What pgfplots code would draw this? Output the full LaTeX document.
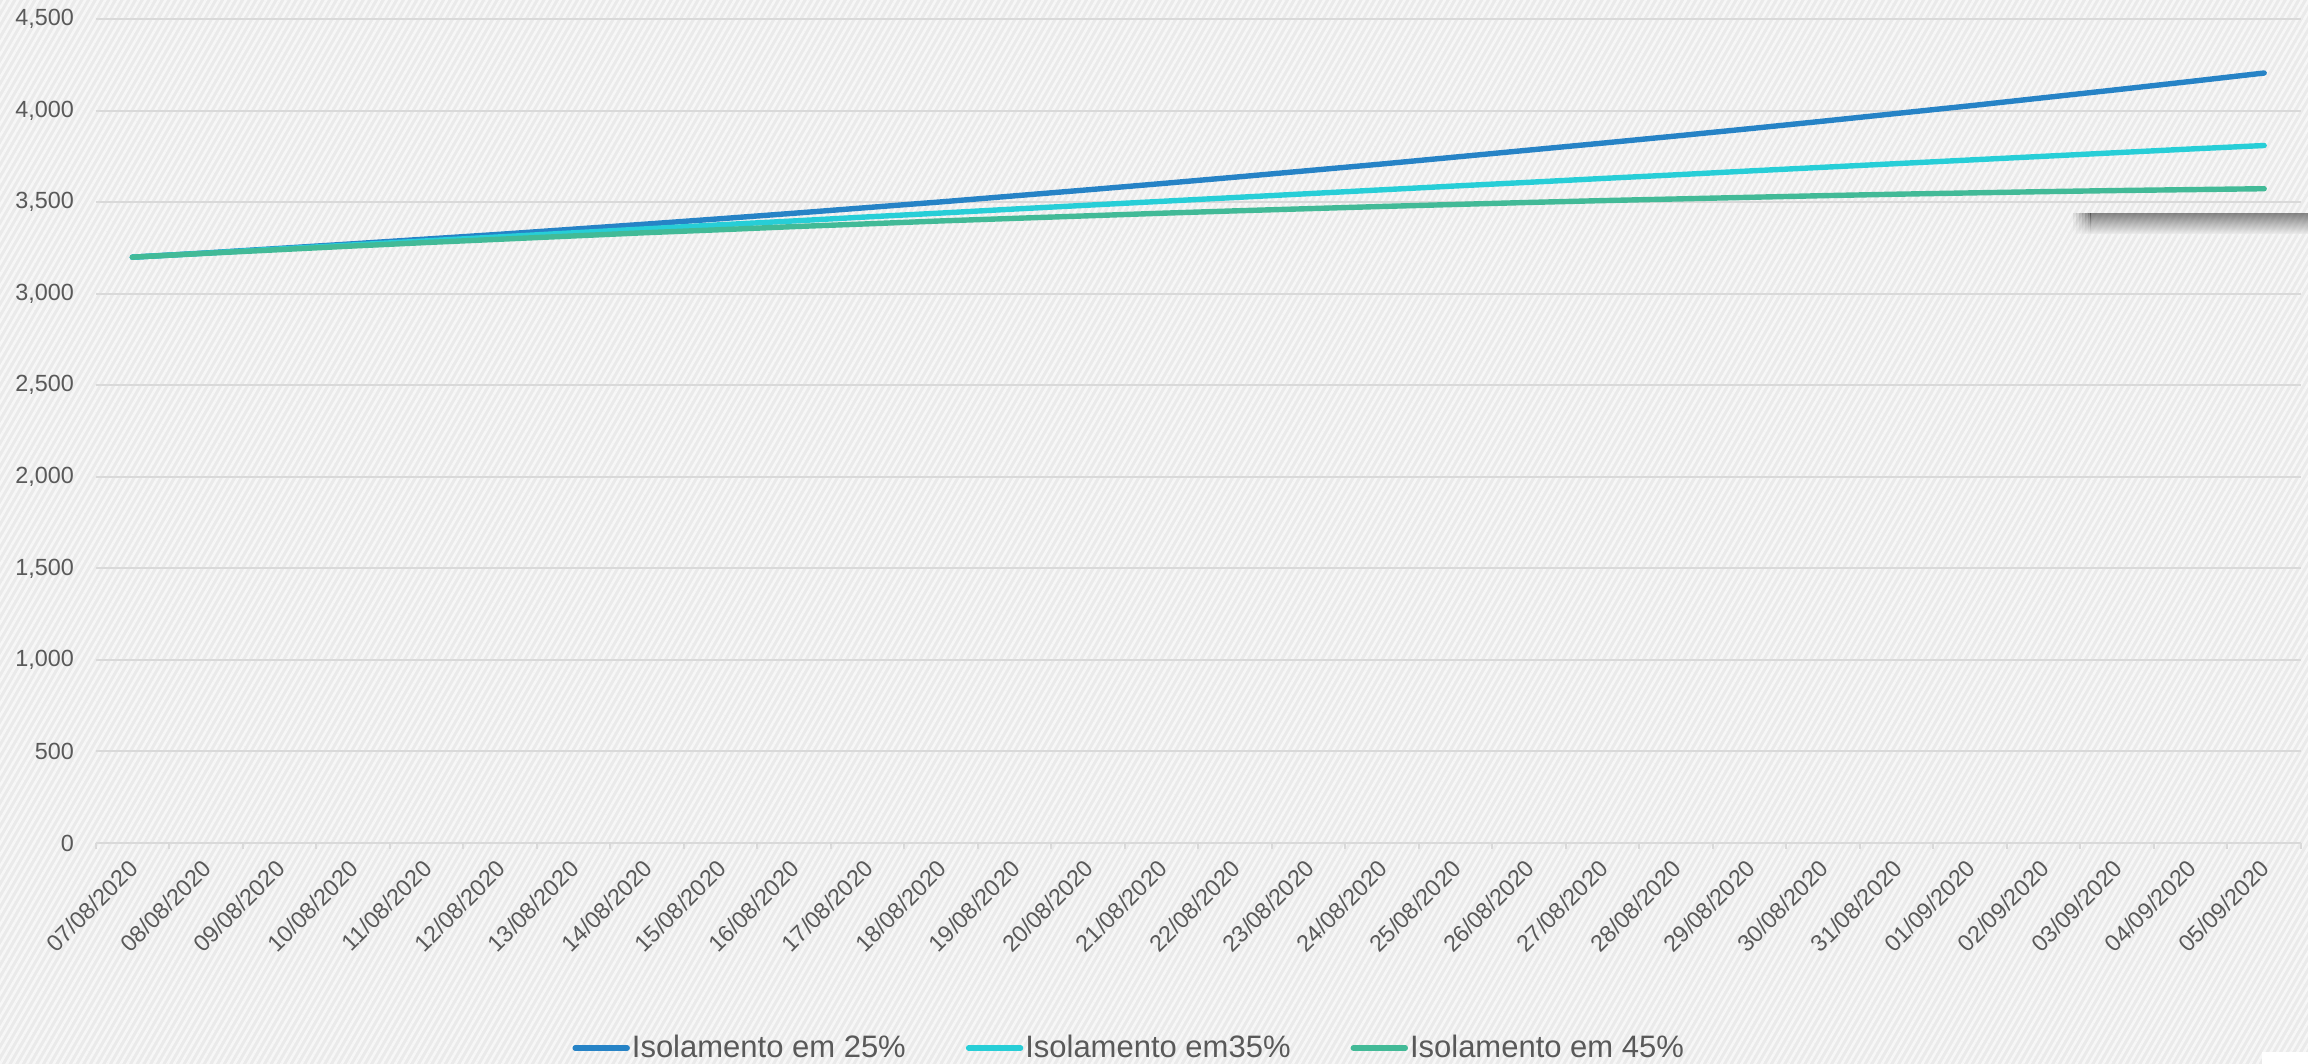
\documentclass[border=0pt]{standalone}
\usepackage{fontspec}
\setmainfont{Liberation Sans}
\usepackage{pgfplots}
\pgfplotsset{compat=1.18}
\usetikzlibrary{patterns.meta}
\definecolor{bgc}{HTML}{EAEAEA}
\definecolor{hatch}{HTML}{F7F7F7}
\definecolor{gridc}{HTML}{D9D9D9}
\definecolor{txt}{HTML}{595959}
\definecolor{c25}{HTML}{2683C6}
\definecolor{c35}{HTML}{27CED7}
\definecolor{c45}{HTML}{42BA97}

% dia, isolamento 25%, 35%, 45%
\pgfplotstableread{
t   a25     a35     a45
0   3200    3200    3200
1   3223    3222    3221
2   3248    3245    3241
3   3273    3267    3261
4   3299    3289    3280
5   3325    3311    3298
6   3353    3333    3316
7   3381    3355    3334
8   3410    3377    3350
9   3440    3398    3367
10  3471    3420    3382
11  3502    3441    3398
12  3535    3463    3412
13  3568    3484    3426
14  3602    3505    3440
15  3637    3526    3453
16  3673    3547    3465
17  3709    3568    3477
18  3747    3589    3488
19  3785    3609    3499
20  3823    3630    3509
21  3862    3650    3518
22  3902    3671    3527
23  3943    3691    3536
24  3985    3711    3544
25  4027    3731    3551
26  4071    3751    3558
27  4115    3771    3564
28  4160    3791    3569
29  4206    3810    3574
}\dados

\begin{document}
\begin{tikzpicture}
\path[use as bounding box] (0,0) rectangle (1154pt,532pt);
\fill[bgc] (0,0) rectangle (1154pt,532pt);
\fill[pattern={Lines[angle=60,distance=2.9pt,line width=1.3pt]}, pattern color=hatch]
  (0,0) rectangle (1154pt,532pt);
% sombra no canto superior direito
\foreach \i in {1,...,6}
  \shade[top color=black!80, bottom color=bgc, opacity=\i/6*0.55]
    ({1035pt+\i*1.5pt},425pt) rectangle ({1036.5pt+\i*1.5pt},415pt);
\shade[top color=black!80, bottom color=bgc, opacity=0.55] (1045pt,425pt) rectangle (1154pt,415pt);
\fill[white] (1131pt,0) rectangle (1154pt,6pt);

\begin{axis}[
  at={(47.8pt,110.5pt)}, anchor=south west,
  scale only axis,
  width=1102.7pt, height=411.9pt,
  xmin=-0.5, xmax=29.5,
  ymin=0, ymax=4500,
  axis x line*=bottom, axis y line*=left,
  x axis line style={draw=gridc, line width=1pt, -},
  y axis line style={draw=none},
  ytick={0,500,...,4500},
  ymajorgrids,
  major grid style={draw=gridc, line width=1pt},
  scaled y ticks=false,
  /pgf/number format/assume math mode=true,
  yticklabel style={xshift=-3pt},
  major y tick style={draw=none},
  xtick={0,...,29},
  xticklabels={07/08/2020,08/08/2020,09/08/2020,10/08/2020,11/08/2020,12/08/2020,
    13/08/2020,14/08/2020,15/08/2020,16/08/2020,17/08/2020,18/08/2020,19/08/2020,
    20/08/2020,21/08/2020,22/08/2020,23/08/2020,24/08/2020,25/08/2020,26/08/2020,
    27/08/2020,28/08/2020,29/08/2020,30/08/2020,31/08/2020,01/09/2020,02/09/2020,
    03/09/2020,04/09/2020,05/09/2020},
  major x tick style={draw=none},
  minor xtick={-0.5,0.5,...,29.5},
  minor tick length=3pt,
  tick align=outside,
  minor x tick style={draw=gridc, line width=1pt},
  xticklabel style={xshift=-2.5pt, yshift=1.5pt, rotate=45, anchor=north east},
  tick label style={font=\fontsize{11.7}{13}\selectfont, text=txt},
  legend columns=3,
  legend style={at={(0.4687,-0.2489)}, anchor=center, draw=none, fill=none,
    font=\fontsize{15.5}{18}\selectfont, text=txt,
    nodes={inner sep=1pt},
    /tikz/every even column/.append style={column sep=29pt}},
  legend image code/.code={\draw[#1, line cap=round] (0pt,0pt) -- (26pt,0pt);},
  every axis plot/.append style={line width=2.7pt, line cap=round, line join=round},
]
\addplot[c25] table[x=t, y=a25] {\dados};
\addlegendentry{Isolamento em 25\%}
\addplot[c35] table[x=t, y=a35] {\dados};
\addlegendentry{Isolamento em35\%}
\addplot[c45] table[x=t, y=a45] {\dados};
\addlegendentry{Isolamento em 45\%}
\end{axis}
\end{tikzpicture}
\end{document}
